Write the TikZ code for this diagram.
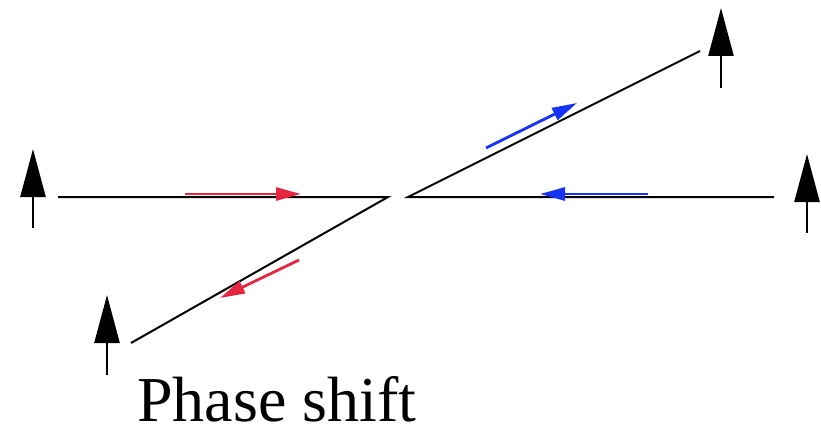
\documentclass[tikz,border=0pt]{standalone}
\usepackage{fontspec}
\setmainfont{Liberation Serif}
\newfontfamily\timesfont{Liberation Serif}
\usetikzlibrary{arrows.meta}
\definecolor{myred}{RGB}{228,38,64}
\definecolor{myblue}{RGB}{22,50,245}
\begin{document}
\begin{tikzpicture}[x=1pt,y=-1pt,
  wire/.style={line width=2pt,black},
  spin/.style={line width=2.5pt,-{Triangle[length=48pt,width=25pt]}},
  flow/.style={line width=2.8pt,-{Triangle[length=25pt,width=13pt]}}]
\useasboundingbox (0,0) rectangle (821,428);
% junction points
\coordinate (L1) at (58,197);
\coordinate (LJ) at (388,197);
\coordinate (L2) at (131,343);
\coordinate (RJ) at (408,197);
\coordinate (R1) at (774,197);
\coordinate (R2) at (700,51);
\draw[wire] (L1) -- (LJ) -- (L2);
\draw[wire] (R1) -- (RJ) -- (R2);
% spins
\coordinate (s1a) at (33,228); \coordinate (s1b) at (33,149);
\coordinate (s2a) at (107,375); \coordinate (s2b) at (107,295);
\coordinate (s3a) at (721,88); \coordinate (s3b) at (721,8);
\coordinate (s4a) at (807,233); \coordinate (s4b) at (807,154);
\draw[spin] (s1a) -- (s1b);
\draw[spin] (s2a) -- (s2b);
\draw[spin] (s3a) -- (s3b);
\draw[spin] (s4a) -- (s4b);
% flows
\coordinate (f1a) at (185,194); \coordinate (f1b) at (301,194);
\coordinate (f2a) at (299,260); \coordinate (f2b) at (220,298);
\coordinate (f3a) at (486,148); \coordinate (f3b) at (577,103);
\coordinate (f4a) at (648,194); \coordinate (f4b) at (540,194);
\draw[flow,myred] (f1a) -- (f1b);
\draw[flow,myred] (f2a) -- (f2b);
\draw[flow,myblue] (f3a) -- (f3b);
\draw[flow,myblue] (f4a) -- (f4b);
\node[anchor=base west,inner sep=0pt,font=\timesfont\fontsize{64pt}{68pt}\selectfont] (lbl) at (137,421) {Phase shift};
\end{tikzpicture}
\end{document}
